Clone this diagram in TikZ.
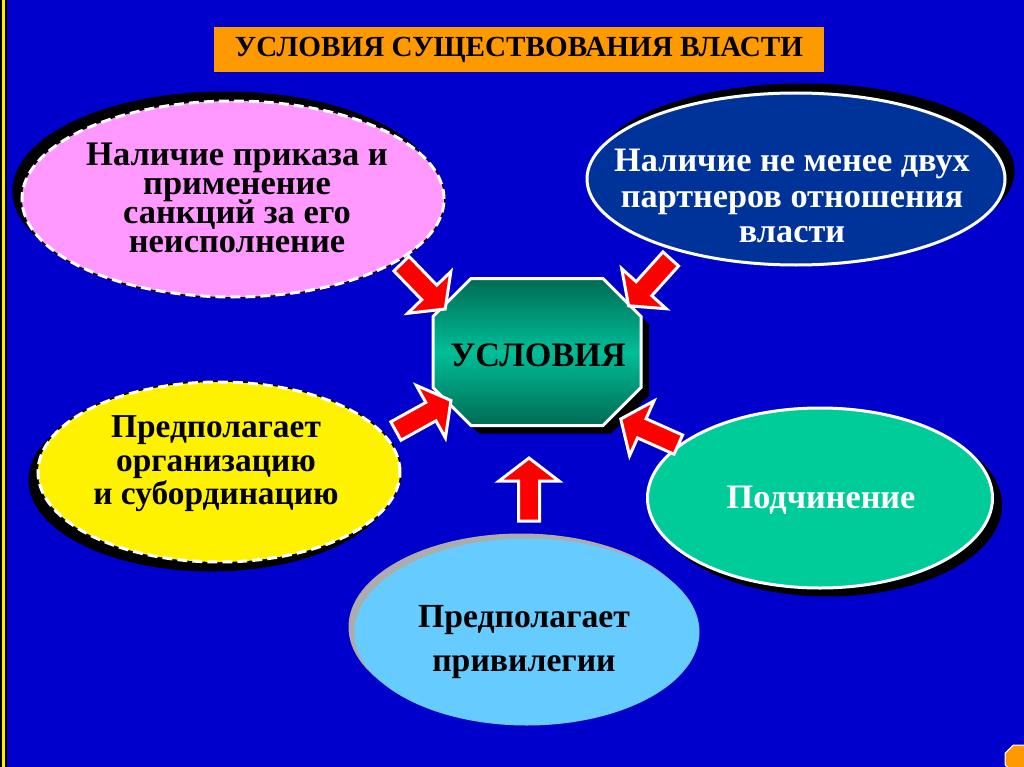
\documentclass[tikz,border=0pt]{standalone}
\usepackage{fontspec}
\setmainfont{Liberation Serif}
\usetikzlibrary{shapes.geometric,shadows}

\newlength\pxu
\setlength\pxu{0.02cm}

\definecolor{slideblue}{HTML}{0000CC}
\definecolor{titleorange}{HTML}{FF9900}
\definecolor{pinkfill}{HTML}{FF99FF}
\definecolor{navyfill}{HTML}{003399}
\definecolor{greenfill}{HTML}{00CC99}
\definecolor{skyfill}{HTML}{66CCFF}
\definecolor{octdark}{HTML}{006B54}
\definecolor{octlight}{HTML}{00BE98}

\newcommand\octpath{(-66,-73.5) -- (66,-73.5) -- (104,-35.5) -- (104,35.5) -- (66,73.5) -- (-66,73.5) -- (-104,35.5) -- (-104,-35.5) -- cycle}
\newcommand\tightlines{\lineskiplimit -50pt\relax}

\tikzset{
  bubble/.style={ellipse, inner sep=0pt, line width=3\pxu},
  dashrim/.style={draw=white, dash pattern=on 10\pxu off 5\pxu,
    preaction={draw=black, solid, line width=3\pxu}},
  blackshadow/.style 2 args={copy shadow={fill=black, draw=black, solid,
    shadow xshift=#1\pxu, shadow yshift=#2\pxu}},
  bubbletext/.style={align=center, inner sep=0pt},
  pics/redarrow/.style={code={
    \draw[fill=red, draw=white, line width=3\pxu, line join=miter]
      (-31,-10.5) -- (9,-10.5) -- (9,-30) -- (32,0) -- (9,30) -- (9,10.5) -- (-31,10.5) -- cycle;
  }},
}

\begin{document}
\begin{tikzpicture}[x=1\pxu, y=-1\pxu]
  \useasboundingbox (0,0) rectangle (1024,767);
  % Slide background with the rule on the left
  \fill[slideblue] (0,0) rectangle (1024,767);
  \fill[black] (0,0) rectangle (7,767);
  \fill[yellow] (2,0) rectangle (5,767);

  % Title bar
  \node[fill=titleorange, minimum width=610\pxu, minimum height=45\pxu, inner sep=0pt,
    font=\bfseries\fontsize{16.6}{20}\selectfont] (title) at (519,50) {УСЛОВИЯ СУЩЕСТВОВАНИЯ ВЛАСТИ};

  % Bubbles round the centre
  \node[bubble, dashrim, fill=pinkfill, blackshadow={-8}{8},
    minimum width=422\pxu, minimum height=196\pxu] (order) at (233,199) {};
  \node[bubbletext, font=\bfseries\fontsize{19.6}{16.6}\selectfont\tightlines]
    (order-t) at (237,198) {Наличие приказа и\\применение\\санкций за его\\неисполнение};

  \node[bubble, draw=white, fill=navyfill, blackshadow={8}{8},
    minimum width=418\pxu, minimum height=172\pxu] (partners) at (796,179) {};
  \node[bubbletext, text=white, font=\bfseries\fontsize{19.5}{20.4}\selectfont\tightlines]
    (partners-t) at (792,196) {Наличие не менее двух\\партнеров отношения\\власти};

  \node[bubble, dashrim, fill=yellow, blackshadow={-8}{-8},
    minimum width=362\pxu, minimum height=180\pxu] (organise) at (219,472) {};
  \node[bubbletext, font=\bfseries\fontsize{19}{19}\selectfont\tightlines]
    (organise-t) at (216,464) {Предполагает\\организацию\\и субординацию};

  \node[bubble, draw=white, fill=greenfill, blackshadow={8}{-7},
    minimum width=345\pxu, minimum height=180\pxu] (submit) at (820,498) {};
  \node[bubbletext, text=white, font=\bfseries\fontsize{19.5}{20}\selectfont]
    (submit-t) at (821,500) {Подчинение};

  \node[bubble, fill=skyfill, copy shadow={fill=gray!65, draw=none, shadow xshift=-6\pxu, shadow yshift=5\pxu},
    minimum width=345\pxu, minimum height=187\pxu] (privilege) at (527,632) {};
  \node[bubbletext, font=\bfseries\fontsize{19.2}{25.5}\selectfont]
    (privilege-t) at (524,642) {Предполагает\\привилегии};

  % Centre octagon
  \fill[black, shift={(545,360)}] \octpath;
  \shade[shift={(537,352)}, top color=octdark, bottom color=octdark, middle color=octlight,
    draw=white, line width=3\pxu] \octpath;
  \node[font=\bfseries\fontsize{19.5}{24}\selectfont] (cond) at (538,355) {УСЛОВИЯ};

  % Arrows pointing to the centre
  \pic[rotate=-46] (arr-order) at (423,286) {redarrow};
  \pic[rotate=-132] (arr-partners) at (650,282) {redarrow};
  \pic[rotate=29] (arr-organise) at (423,416) {redarrow};
  \pic[rotate=90] (arr-privilege) at (529,490) {redarrow};
  \pic[rotate=156] (arr-submit) at (650,432) {redarrow};

  % Navigation button
  \node[regular polygon, regular polygon sides=8, fill=titleorange, draw=white,
    line width=1\pxu, minimum size=30\pxu, inner sep=0pt] (navbtn) at (1019,759) {};
\end{tikzpicture}
\end{document}
